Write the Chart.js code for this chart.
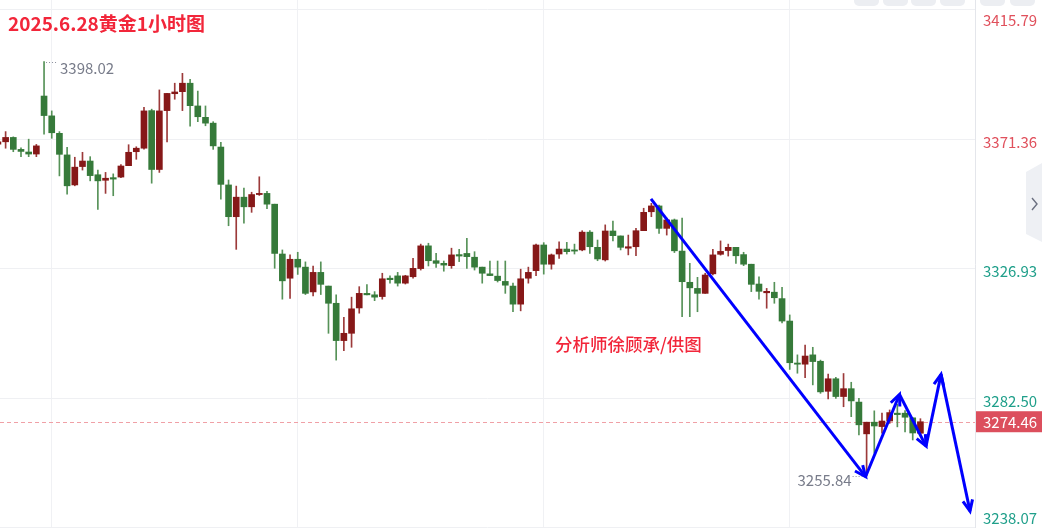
<!DOCTYPE html>
<html>
<head>
<meta charset="utf-8">
<script src="https://cdn.jsdelivr.net/npm/chart.js@4.4.1/dist/chart.umd.min.js"></script>
<style>
  html, body { margin: 0; padding: 0; background: #fff; }
  #wrap { position: relative; width: 1042px; height: 528px; }
</style>
</head>
<body>
<div id="wrap"><canvas id="c" width="1042" height="528"></canvas></div>
<script>
// 1小时K线 (第一根只露出一点)
const open = [
  3369.7, 3370.5, 3372.0, 3367.9, 3367.0, 3366.3, 3386.2, 3379.4, 3373.4, 3366.0,
  3355.7, 3362.0, 3363.9, 3359.2, 3357.3, 3358.2, 3358.4, 3362.3, 3367.1, 3368.3,
  3381.2, 3361.0, 3381.2, 3387.0, 3387.7, 3390.6, 3382.8, 3378.9, 3376.9, 3368.7,
  3355.7, 3344.8, 3351.5, 3348.2, 3352.4, 3352.8, 3349.1, 3332.0, 3323.7, 3330.2,
  3327.5, 3319.0, 3325.7, 3321.0, 3315.1, 3302.3, 3304.8, 3313.5, 3318.5, 3318.0,
  3317.4, 3323.7, 3324.5, 3322.0, 3324.2, 3327.0, 3334.8, 3329.7, 3328.8, 3328.0,
  3331.8, 3332.2, 3330.9, 3327.5, 3325.2, 3324.4, 3322.6, 3321.0, 3314.8, 3323.7,
  3326.3, 3335.1, 3328.5, 3332.0, 3333.7, 3333.4, 3333.4, 3339.5, 3334.3, 3330.0,
  3339.9, 3338.2, 3334.0, 3334.5, 3340.0, 3346.5, 3348.5, 3340.8, 3343.7, 3333.0,
  3322.3, 3320.2, 3318.5, 3325.2, 3331.9, 3333.2, 3334.3, 3331.8, 3328.5, 3321.7,
  3318.7, 3318.9, 3316.7, 3309.0, 3294.6, 3294.2, 3297.4, 3295.2, 3284.9, 3289.2,
  3283.1, 3285.8, 3281.2, 3270.3, 3274.3, 3272.8, 3274.7, 3277.4, 3277.4, 3275.8,
  3270.5
];
const high = [
  3371.2, 3374.0, 3372.2, 3368.4, 3371.4, 3369.6, 3398.02, 3381.1, 3374.0, 3368.6,
  3365.2, 3366.9, 3365.4, 3360.8, 3360.0, 3359.5, 3362.7, 3369.5, 3368.8, 3382.3,
  3381.7, 3388.3, 3387.1, 3390.6, 3394.0, 3391.9, 3387.9, 3382.8, 3377.4, 3370.3,
  3357.4, 3355.3, 3354.6, 3353.2, 3358.5, 3353.5, 3349.1, 3333.4, 3331.7, 3332.6,
  3329.3, 3327.9, 3329.3, 3321.0, 3318.0, 3310.3, 3317.2, 3320.8, 3321.5, 3319.1,
  3325.4, 3324.5, 3325.7, 3324.7, 3330.5, 3335.4, 3335.7, 3332.2, 3329.6, 3334.0,
  3333.6, 3337.4, 3332.8, 3327.5, 3329.6, 3329.6, 3329.6, 3322.0, 3326.8, 3327.5,
  3335.4, 3335.9, 3332.0, 3336.2, 3336.0, 3335.4, 3340.0, 3340.0, 3336.8, 3342.0,
  3343.3, 3338.2, 3338.5, 3340.8, 3347.7, 3349.4, 3348.8, 3344.3, 3344.0, 3344.3,
  3328.8, 3324.0, 3325.4, 3333.6, 3336.5, 3335.4, 3334.3, 3332.6, 3328.5, 3324.2,
  3320.2, 3322.3, 3320.6, 3311.1, 3297.4, 3300.8, 3300.0, 3295.6, 3290.8, 3289.7,
  3291.0, 3288.0, 3282.5, 3274.3, 3278.2, 3277.4, 3278.5, 3280.5, 3278.3, 3275.8,
  3275.5
];
const low = [
  3369.2, 3368.3, 3367.1, 3365.4, 3365.4, 3365.4, 3373.1, 3371.7, 3358.8, 3352.5,
  3355.4, 3360.8, 3357.1, 3347.3, 3352.8, 3352.0, 3358.2, 3362.3, 3364.5, 3368.0,
  3356.3, 3360.0, 3370.5, 3385.1, 3381.2, 3375.9, 3377.4, 3376.0, 3367.9, 3350.8,
  3341.7, 3333.6, 3342.6, 3346.3, 3352.1, 3347.6, 3327.1, 3316.5, 3316.8, 3325.0,
  3318.1, 3317.6, 3318.1, 3304.8, 3295.6, 3298.8, 3300.0, 3311.7, 3318.0, 3316.0,
  3316.5, 3322.0, 3321.0, 3321.7, 3323.7, 3326.5, 3327.9, 3327.4, 3326.1, 3327.1,
  3329.4, 3327.1, 3326.5, 3322.0, 3324.6, 3322.4, 3318.5, 3312.2, 3312.5, 3322.0,
  3324.6, 3325.1, 3326.8, 3330.5, 3332.0, 3332.0, 3333.1, 3332.2, 3329.7, 3329.6,
  3336.5, 3333.4, 3331.7, 3331.4, 3340.0, 3344.8, 3339.1, 3338.5, 3332.5, 3310.5,
  3310.5, 3312.2, 3318.5, 3324.8, 3331.6, 3331.3, 3328.8, 3328.0, 3319.1, 3316.5,
  3313.4, 3315.1, 3308.4, 3292.4, 3291.1, 3289.6, 3287.1, 3284.2, 3282.3, 3282.5,
  3279.6, 3276.2, 3269.9, 3255.84, 3263.7, 3270.5, 3273.9, 3272.7, 3271.0, 3268.2,
  3269.6
];
const close = [
  3370.5, 3372.0, 3367.9, 3367.2, 3366.3, 3369.1, 3379.5, 3373.6, 3366.2, 3355.4,
  3361.8, 3363.9, 3358.9, 3357.1, 3358.0, 3357.7, 3362.2, 3366.9, 3368.3, 3381.1,
  3361.0, 3381.1, 3387.1, 3387.6, 3390.6, 3382.9, 3379.1, 3376.9, 3369.1, 3355.9,
  3344.8, 3351.5, 3348.2, 3352.4, 3352.8, 3349.1, 3332.2, 3322.8, 3330.2, 3327.5,
  3318.5, 3325.7, 3321.6, 3315.1, 3302.3, 3304.8, 3313.2, 3318.5, 3318.0, 3317.2,
  3323.5, 3323.2, 3322.0, 3324.5, 3327.1, 3334.8, 3329.7, 3328.8, 3328.2, 3331.7,
  3331.3, 3331.1, 3327.5, 3325.4, 3324.6, 3322.9, 3321.3, 3314.8, 3323.5, 3325.7,
  3335.1, 3328.5, 3331.7, 3333.7, 3332.8, 3333.0, 3339.5, 3334.5, 3330.3, 3339.9,
  3338.3, 3334.3, 3334.5, 3340.0, 3346.3, 3348.5, 3340.8, 3343.7, 3333.1, 3322.5,
  3320.4, 3318.5, 3324.8, 3331.7, 3332.9, 3334.3, 3331.4, 3328.5, 3321.6, 3319.2,
  3319.2, 3317.0, 3309.0, 3294.7, 3294.2, 3297.0, 3295.1, 3284.7, 3289.2, 3283.1,
  3285.8, 3281.6, 3273.4, 3274.3, 3273.0, 3274.7, 3277.6, 3276.9, 3276.0, 3270.6,
  3274.46
];

// 右侧价格刻度
const yTicks = [3238.07, 3282.50, 3326.93, 3371.36, 3415.79];
const yTickColors = ["#1f9f8a", "#1f9f8a", "#1f9f8a", "#e0505c", "#e0505c"];
const xGrid = [6, 38, 70, 102];

// 蓝色走势箭头 (K线序号, 价格)
const arrowX = [83.95, 111.86, 116.28, 119.73, 121.68, 125.45];
const arrowY = [3350.9, 3255.6, 3283.8, 3266.1, 3290.7, 3243.8];

const title = "2025.6.28黄金1小时图";
const note = "分析师徐顾承/供图";

const UP = "#861818", DOWN = "#367a3a";
const UP_WICK = "#9c3a3a", DOWN_WICK = "#569258";

const bodies = open.map((o, i) => ({ x: i - 1, y: [o, close[i]] }));
const wicks = open.map((o, i) => ({ x: i - 1, y: [low[i], high[i]] }));
const isUp = open.map((o, i) => close[i] >= o);

const numFont = "15px 'Noto Sans CJK SC', 'Noto Sans', sans-serif";

function drawArrow(ctx, x1, y1, x2, y2) {
  ctx.beginPath();
  ctx.moveTo(x1, y1);
  ctx.lineTo(x2, y2);
  ctx.stroke();
  const a = Math.atan2(y2 - y1, x2 - x1), L = 12, s = 0.42;
  ctx.beginPath();
  ctx.moveTo(x2 - L * Math.cos(a - s), y2 - L * Math.sin(a - s));
  ctx.lineTo(x2, y2);
  ctx.lineTo(x2 - L * Math.cos(a + s), y2 - L * Math.sin(a + s));
  ctx.stroke();
}

const overlay = {
  id: "overlay",
  beforeDatasetsDraw(chart) {
    const { ctx, chartArea, scales } = chart;
    const last = close[close.length - 1];
    const py = scales.y.getPixelForValue(last);
    ctx.save();
    ctx.strokeStyle = "#f0a0a6";
    ctx.lineWidth = 1;
    ctx.setLineDash([4, 3]);
    ctx.beginPath();
    ctx.moveTo(chartArea.left, Math.round(py) + 0.5);
    ctx.lineTo(chartArea.right, Math.round(py) + 0.5);
    ctx.stroke();
    ctx.restore();
  },
  afterDraw(chart) {
    const { ctx, chartArea, scales } = chart;
    const xs = scales.x, ys = scales.y;
    ctx.save();

    // 顶部标签页
    ctx.fillStyle = "#eceef2";
    [854, 883, 911, 940, 980, 1010].forEach((x) => {
      ctx.beginPath();
      ctx.roundRect(x, -6, 25, 12, 5);
      ctx.fill();
    });

    // 右侧价格
    ctx.font = numFont;
    ctx.textBaseline = "middle";
    ctx.textAlign = "left";
    yTicks.forEach((v, i) => {
      let y = ys.getPixelForValue(v) + 3;
      y = Math.max(20, Math.min(518, y));
      ctx.fillStyle = yTickColors[i];
      ctx.fillText(v.toFixed(2), chartArea.right + 8, y);
    });

    // 最新价
    const last = close[close.length - 1];
    const py = ys.getPixelForValue(last);
    ctx.fillStyle = "#dc4f5d";
    ctx.fillRect(chartArea.right + 1, py - 10.5, 67, 21);
    ctx.fillStyle = "#ffffff";
    ctx.fillText(last.toFixed(2), chartArea.right + 8, py + 0.5);

    // 侧边折叠按钮
    ctx.fillStyle = "#eef0f4";
    ctx.beginPath();
    ctx.moveTo(1042, 163);
    ctx.lineTo(1026, 172);
    ctx.lineTo(1026, 234);
    ctx.lineTo(1042, 242);
    ctx.closePath();
    ctx.fill();
    ctx.strokeStyle = "#6b7080";
    ctx.lineWidth = 1.4;
    ctx.beginPath();
    ctx.moveTo(1032, 198);
    ctx.lineTo(1037, 204);
    ctx.lineTo(1032, 210);
    ctx.stroke();

    // 最高 / 最低 标注
    let hi = 0, lo = 0;
    high.forEach((v, i) => { if (v > high[hi]) hi = i; });
    low.forEach((v, i) => { if (v < low[lo]) lo = i; });
    const hx = xs.getPixelForValue(hi - 1), hy = ys.getPixelForValue(high[hi]);
    const lx = xs.getPixelForValue(lo - 1), ly = ys.getPixelForValue(low[lo]);
    ctx.strokeStyle = "#8a8f9c";
    ctx.lineWidth = 1;
    ctx.setLineDash([1, 2]);
    ctx.beginPath();
    ctx.moveTo(hx + 2, Math.round(hy) + 0.5);
    ctx.lineTo(hx + 14, Math.round(hy) + 0.5);
    ctx.moveTo(lx - 14, Math.round(ly) + 0.5);
    ctx.lineTo(lx - 3, Math.round(ly) + 0.5);
    ctx.stroke();
    ctx.setLineDash([]);
    ctx.fillStyle = "#787c8a";
    ctx.font = numFont;
    ctx.textBaseline = "top";
    ctx.textAlign = "left";
    ctx.fillText(high[hi].toFixed(2), hx + 16, hy - 1);
    ctx.textAlign = "right";
    ctx.fillText(low[lo].toFixed(2), lx - 15, ly - 3);

    // 标题和署名
    ctx.textAlign = "left";
    ctx.textBaseline = "middle";
    ctx.fillStyle = "#f2263a";
    ctx.font = "bold 19px 'Noto Sans CJK SC', sans-serif";
    ctx.fillText(title, 8, 24);
    ctx.font = "500 17.5px 'Noto Sans CJK SC', sans-serif";
    ctx.fillText(note, 555, 344);

    // 蓝色走势箭头
    ctx.strokeStyle = "#0000ff";
    ctx.lineWidth = 3;
    ctx.lineJoin = "miter";
    ctx.lineCap = "butt";
    for (let i = 0; i < arrowX.length - 1; i++) {
      drawArrow(ctx,
        xs.getPixelForValue(arrowX[i]), ys.getPixelForValue(arrowY[i]),
        xs.getPixelForValue(arrowX[i + 1]), ys.getPixelForValue(arrowY[i + 1]));
    }
    ctx.restore();
  },
};

new Chart(document.getElementById("c"), {
  type: "bar",
  data: {
    datasets: [
      {
        label: "实体",
        data: bodies,
        backgroundColor: isUp.map((u) => (u ? UP : DOWN)),
        barThickness: 6,
        grouped: false,
        minBarLength: 1,
      },
      {
        label: "影线",
        data: wicks,
        backgroundColor: isUp.map((u) => (u ? UP_WICK : DOWN_WICK)),
        barThickness: 1,
        grouped: false,
      },
    ],
  },
  options: {
    responsive: false,
    animation: false,
    layout: { padding: { left: 0, right: 67, top: 0, bottom: 0 } },
    plugins: { legend: { display: false }, tooltip: { enabled: false } },
    scales: {
      x: {
        type: "linear",
        min: -0.73,
        max: 126.1,
        offset: false,
        afterBuildTicks: (s) => { s.ticks = xGrid.map((v) => ({ value: v })); },
        ticks: { display: false },
        grid: { color: "#f0f1f4", drawTicks: false, offset: false },
        border: { display: false },
      },
      y: {
        position: "right",
        min: 3238.0,
        max: 3419.15,
        afterBuildTicks: (s) => { s.ticks = yTicks.map((v) => ({ value: v })); },
        ticks: { display: false },
        grid: { color: "#eff0f3", drawTicks: false },
        border: { display: true, color: "#e4e6eb" },
      },
    },
  },
  plugins: [overlay],
});
</script>
</body>
</html>
